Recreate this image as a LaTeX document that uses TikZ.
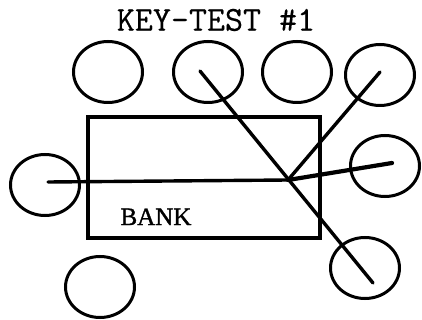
\documentclass[tikz,border=0pt]{standalone}
\usepackage{fontspec}
\newfontfamily\bankfont[FakeBold=1.2]{Liberation Serif}
\newfontfamily\titlefont[FakeBold=0.4]{Latin Modern Mono}
\usetikzlibrary{shapes.geometric}
\begin{document}
\begin{tikzpicture}[x=1pt,y=-1pt,
  key/.style={ellipse,draw,line width=3pt,minimum width=69pt,minimum height=61pt,inner sep=0pt},
  wire/.style={line width=3.4pt,line cap=round},
  bankbox/.style={draw,line width=3.4pt,minimum width=232pt,minimum height=121pt,inner sep=0pt}]
\useasboundingbox (0,0) rectangle (422,320);
\node[font=\titlefont\fontsize{35}{35}\selectfont] (title) at (216,20) {KEY-TEST \#1};
\node[bankbox] (bank) at (204,177.5) {};
\node[font=\bankfont\fontsize{25}{25}\selectfont,anchor=base west] (banklabel) at (117,225) {BANK};
\node[key] (t1) at (108,72) {};
\node[key] (t2) at (208,72) {};
\node[key] (t3) at (297,72) {};
\node[key] (t4) at (380,75) {};
\node[key] (r) at (385,166) {};
\node[key] (l) at (45,185) {};
\node[key] (bl) at (100,287) {};
\node[key] (br) at (365,268) {};
\coordinate (j) at (288,180);
\coordinate (t2p) at (200,71);
\coordinate (t4p) at (380,72);
\coordinate (lp) at (48,182);
\coordinate (rp) at (392,163);
\coordinate (brp) at (373,283);
\draw[wire] (lp) -- (j);
\draw[wire,line width=4.2pt] (j) -- (rp);
\draw[wire] (t2p) -- (brp);
\draw[wire] (t4p) -- (j);
\end{tikzpicture}
\end{document}
